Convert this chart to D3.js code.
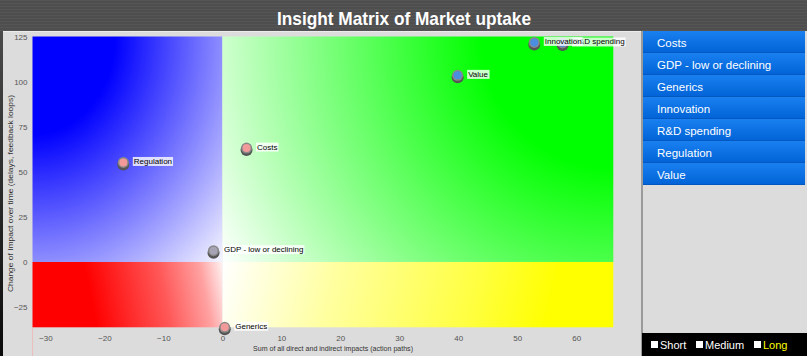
<!DOCTYPE html>
<html><head><meta charset="utf-8">
<script src="https://cdn.jsdelivr.net/npm/d3@7"></script>
<style>html,body{margin:0;padding:0;background:#4f4f4f;overflow:hidden}</style>
</head><body>
<svg id="chart" width="807" height="356"></svg>
<script>
const categories = ["Costs","GDP - low or declining","Generics","Innovation","R&D spending","Regulation","Value"];
const xValues = [4.1, -1.5, 0.4, 52.9, 57.7, -16.8, 39.9];
const yValues = [63.3, 6.3, -36.3, 122.0, 121.7, 55.3, 103.7];
const groups = ["pink","gray","pink","blue","blue","pink","blue"];
const xTicks = [-30,-20,-10,0,10,20,30,40,50,60];
const yTicks = [-25,0,25,50,75,100,125];
const legendLabels = ["Short","Medium","Long"];
const title = "Insight Matrix of Market uptake";
const xTitle = "Sum of all direct and indirect impacts (action paths)";
const yTitle = "Change of Impact over time (delays, feedback loops)";

const svg = d3.select("#chart");
const W = 807, H = 356;
const defs = svg.append("defs");

// title bar stripes
const pat = defs.append("pattern").attr("id","stripes").attr("width",4).attr("height",3).attr("patternUnits","userSpaceOnUse");
pat.append("rect").attr("width",4).attr("height",3).attr("fill","#4e4e4e");
pat.append("rect").attr("width",4).attr("height",1).attr("fill","#555");
svg.append("rect").attr("x",0).attr("y",0).attr("width",W).attr("height",H).attr("fill","url(#stripes)");

// left dark strip gradient
const lg = defs.append("linearGradient").attr("id","leftStrip").attr("x1",0).attr("y1",0).attr("x2",0).attr("y2",1);
lg.append("stop").attr("offset","0%").attr("stop-color","#4a4a4a");
lg.append("stop").attr("offset","100%").attr("stop-color","#0a0a0a");
svg.append("rect").attr("x",0).attr("y",31).attr("width",4).attr("height",H-31).attr("fill","url(#leftStrip)");

// main panel
svg.append("rect").attr("x",3).attr("y",31.5).attr("width",638).attr("height",H-31.5).attr("fill","#dcdcdc");
svg.append("line").attr("x1",3).attr("x2",641).attr("y1",31.5).attr("y2",31.5).attr("stroke","#ececec");
svg.append("rect").attr("x",641).attr("y",31).attr("width",2).attr("height",H-31).attr("fill","#9a9a9a");

// title
svg.append("text").attr("x",404).attr("y",24.5).attr("text-anchor","middle")
  .attr("font-family","'Liberation Sans Narrow','Arial Narrow',Arial,sans-serif").attr("font-weight","bold")
  .attr("font-size",19).attr("fill","#fff")
  .attr("textLength",254).attr("lengthAdjust","spacingAndGlyphs").text(title);

// scales
const x = d3.scaleLinear().domain([-32.2, 66.3]).range([32.5, 613.3]);
const y = d3.scaleLinear().domain([-36.3, 125.3]).range([327.3, 36.5]);

const x0 = x.domain()[0], x1d = x.domain()[1], y0 = y.domain()[0], y1d = y.domain()[1];

function addStops(g, stops){ stops.forEach(s=>g.append("stop").attr("offset",s[0]).attr("stop-color",s[1])); }

// blue: elliptical radial from the top-left corner
addStops(defs.append("radialGradient").attr("id","gBlue")
  .attr("cx",0).attr("cy",0).attr("fx",0).attr("fy",0).attr("r",1.45),
  [[0,"#0000ff"],[0.3,"#0000ff"],[1,"#ffffff"]]);
// green: circular radial from the top-right corner
addStops(defs.append("radialGradient").attr("id","gGreen").attr("gradientUnits","userSpaceOnUse")
  .attr("cx",x(x1d)).attr("cy",y(y1d)).attr("fx",x(x1d)).attr("fy",y(y1d)).attr("r",452),
  [[0,"#00ff00"],[0.29,"#00ff00"],[1,"#ffffff"]]);
// red: mostly horizontal fade to white toward x = 0
addStops(defs.append("linearGradient").attr("id","gRed").attr("gradientUnits","userSpaceOnUse")
  .attr("x1",x(x0)).attr("y1",y(y0)-27).attr("x2",x(0)).attr("y2",y(0)),
  [[0,"#ff0000"],[0.30,"#ff0000"],[0.67,"#ff5757"],[0.88,"#ffa1a1"],[1,"#fff2f2"]]);
// yellow: mostly horizontal, white at x = 0
addStops(defs.append("linearGradient").attr("id","gYellow").attr("gradientUnits","userSpaceOnUse")
  .attr("x1",x(0)).attr("y1",y(0)).attr("x2",x(x1d)).attr("y2",y(y0)+30),
  [[0,"#ffffff"],[0.28,"#ffffa0"],[0.63,"#ffff40"],[0.82,"#ffff00"],[1,"#ffff00"]]);

const quads = [
  {xa:x0, xb:0, ya:0, yb:y1d, f:"url(#gBlue)"},
  {xa:0, xb:x1d, ya:0, yb:y1d, f:"url(#gGreen)"},
  {xa:x0, xb:0, ya:y0, yb:0, f:"url(#gRed)"},
  {xa:0, xb:x1d, ya:y0, yb:0, f:"url(#gYellow)"}
];
svg.append("g").selectAll("rect").data(quads).join("rect")
  .attr("x",d=>x(d.xa)).attr("y",d=>y(d.yb))
  .attr("width",d=>x(d.xb)-x(d.xa)).attr("height",d=>y(d.ya)-y(d.yb))
  .attr("fill",d=>d.f);

// faint line under plot at left
svg.append("line").attr("x1",x(x0)).attr("x2",x(x0)).attr("y1",y(y0)).attr("y2",H).attr("stroke","#f0b0b0").attr("stroke-width",0.7);

// axes
const axFont = "Arial,'Liberation Sans',sans-serif";
const xAxis = svg.append("g").attr("transform",`translate(0,${y(y0)})`)
  .call(d3.axisBottom(x).tickValues(xTicks).tickSize(0).tickPadding(8).tickFormat(d3.format("d")));
const yAxis = svg.append("g").attr("transform",`translate(${x(x0)},0)`)
  .call(d3.axisLeft(y).tickValues(yTicks).tickSize(0).tickPadding(5).tickFormat(d3.format("d")));
[xAxis,yAxis].forEach(a=>{
  a.select(".domain").remove();
  a.selectAll("text").attr("font-family",axFont).attr("font-size",8).attr("fill","#555");
});

svg.append("text").attr("x",333).attr("y",350.5).attr("text-anchor","middle")
  .attr("font-family",axFont).attr("font-size",7.5).attr("fill","#333")
  .attr("textLength",160).attr("lengthAdjust","spacingAndGlyphs").text(xTitle);
svg.append("text").attr("transform","translate(12.5,193.5) rotate(-90)").attr("text-anchor","middle")
  .attr("font-family",axFont).attr("font-size",7.5).attr("fill","#333")
  .attr("textLength",197).attr("lengthAdjust","spacingAndGlyphs").text(yTitle);

// points (drawn in reverse order so earlier items sit on top)
const fillMap = {pink:"#f29a9a", gray:"#a4a4b4", blue:"#4a8ee0"};
const pts = categories.map((c,i)=>({name:c, x:xValues[i], y:yValues[i], g:groups[i]})).reverse();
const pg = svg.append("g");
pts.forEach(p=>{
  const cx = x(p.x), cy = y(p.y);
  const gg = pg.append("g");
  gg.append("circle").attr("cx",cx).attr("cy",cy+2).attr("r",6).attr("fill","#555");
  gg.append("circle").attr("cx",cx).attr("cy",cy).attr("r",5.5).attr("fill","#888");
  gg.append("circle").attr("cx",cx).attr("cy",cy).attr("r",4).attr("fill",fillMap[p.g]);
  const t = gg.append("text").attr("x",cx+10.5).attr("y",cy+1.5)
    .attr("font-family",axFont).attr("font-size",8).attr("fill","#000").text(p.name);
  const bb = t.node().getBBox();
  gg.insert("rect","text").attr("x",bb.x-1).attr("y",bb.y).attr("width",bb.width+2).attr("height",bb.height)
    .attr("fill","#fff").attr("fill-opacity",0.8);
});

// right panel
const ig = defs.append("linearGradient").attr("id","itemG").attr("x1",0).attr("y1",0).attr("x2",0).attr("y2",1);
ig.append("stop").attr("offset","0%").attr("stop-color","#1a80f0");
ig.append("stop").attr("offset","100%").attr("stop-color","#0062d6");
svg.append("rect").attr("x",643).attr("y",31).attr("width",164).attr("height",302).attr("fill","#dcdcdc");
const itemH = 22;
const items = svg.append("g").selectAll("g").data(categories).join("g")
  .attr("transform",(d,i)=>`translate(643,${31+i*itemH})`);
items.append("rect").attr("width",162).attr("height",itemH).attr("fill","url(#itemG)");
items.append("line").attr("x1",0).attr("x2",162).attr("y1",itemH-0.5).attr("y2",itemH-0.5).attr("stroke","#0058c0");
items.append("text").attr("x",14).attr("y",15.5).attr("font-family","Arial,'Liberation Sans',sans-serif")
  .attr("font-size",11.5).attr("fill","#fff").text(d=>d);

// legend bar
svg.append("rect").attr("x",642).attr("y",333).attr("width",165).attr("height",23).attr("fill","#000");
const legX = [651, 696, 754];
const leg = svg.append("g").selectAll("g").data(legendLabels).join("g")
  .attr("transform",(d,i)=>`translate(${legX[i]},341)`);
leg.append("rect").attr("width",7).attr("height",7).attr("fill","#fff");
leg.append("text").attr("x",9).attr("y",8).attr("font-family","Arial,'Liberation Sans',sans-serif")
  .attr("font-size",11).attr("fill",(d,i)=>i===2?"#ffff00":"#fff").text(d=>d);
</script>
</body></html>
